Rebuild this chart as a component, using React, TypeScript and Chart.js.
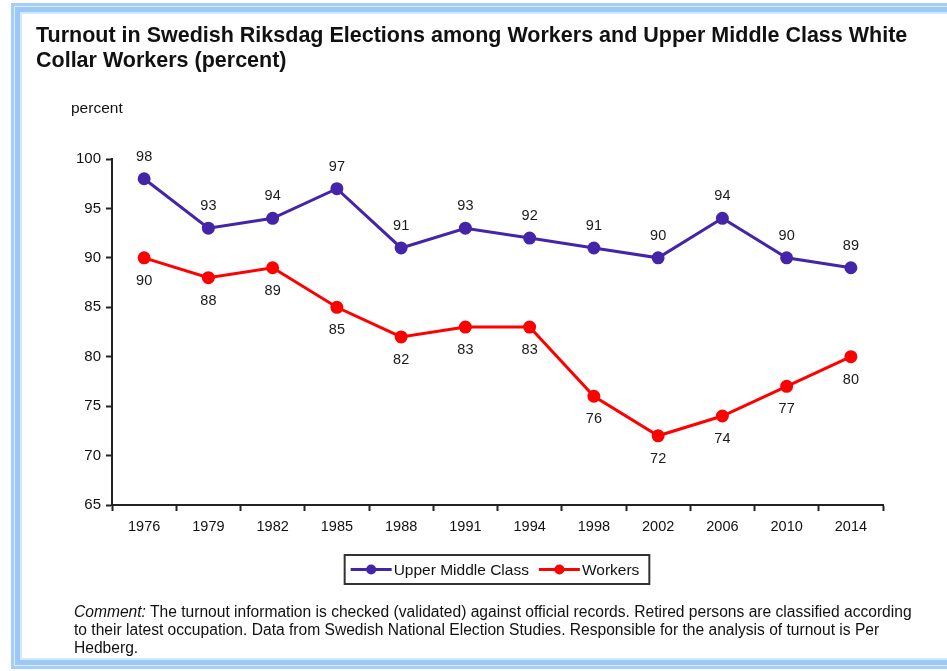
import React, { useEffect, useRef } from "react";
import { Chart, registerables } from "chart.js";

Chart.register(...registerables);

const years = ["1976", "1979", "1982", "1985", "1988", "1991", "1994", "1998", "2002", "2006", "2010", "2014"];
const upperMiddleClass = [98, 93, 94, 97, 91, 93, 92, 91, 90, 94, 90, 89];
const workers = [90, 88, 89, 85, 82, 83, 83, 76, 72, 74, 77, 80];
const seriesNames = ["Upper Middle Class", "Workers"];
const seriesColors = ["#4424a8", "#ff0000"];
const yMin = 65;
const yMax = 100;
const yStep = 5;

const FONT = "'Liberation Sans', Arial, Helvetica, sans-serif";

const dataLabelPlugin = {
  id: "dataLabels",
  afterDatasetsDraw(chart: any) {
    const ctx = chart.ctx;
    ctx.save();
    ctx.font = `14.5px ${FONT}`;
    ctx.fillStyle = "#1a1a1a";
    ctx.textAlign = "center";
    ctx.textBaseline = "middle";
    chart.data.datasets.forEach((ds: any, i: number) => {
      const meta = chart.getDatasetMeta(i);
      meta.data.forEach((pt: any, j: number) => {
        const dy = i === 0 ? -22 : 23;
        ctx.fillText(String(ds.data[j]), pt.x, pt.y + dy);
      });
    });
    ctx.restore();
  },
};

const boxLegendPlugin = {
  id: "boxLegend",
  afterDraw(chart: any) {
    const ctx = chart.ctx;
    ctx.save();
    ctx.font = `15.5px ${FONT}`;
    const padL = 6;
    const padR = 10;
    const lineLen = 41;
    const gapText = 2;
    const gapItem = 10;
    const items = chart.data.datasets.map((ds: any) => ({
      label: ds.label,
      color: ds.borderColor,
      w: ctx.measureText(ds.label).width,
    }));
    let total = padL + padR;
    items.forEach((it: any, k: number) => {
      total += lineLen + gapText + it.w + (k < items.length - 1 ? gapItem : 0);
    });
    const cx = 497;
    const top = 555;
    const h = 29;
    const left = cx - total / 2;
    ctx.strokeStyle = "#333";
    ctx.lineWidth = 2;
    ctx.strokeRect(left, top, total, h);
    const cy = top + h / 2;
    let x = left + padL;
    items.forEach((it: any) => {
      ctx.strokeStyle = it.color;
      ctx.lineWidth = 3;
      ctx.beginPath();
      ctx.moveTo(x, cy);
      ctx.lineTo(x + lineLen, cy);
      ctx.stroke();
      ctx.fillStyle = it.color;
      ctx.beginPath();
      ctx.arc(x + lineLen / 2, cy, 5, 0, Math.PI * 2);
      ctx.fill();
      x += lineLen + gapText;
      ctx.fillStyle = "#111";
      ctx.textAlign = "left";
      ctx.textBaseline = "middle";
      ctx.fillText(it.label, x, cy + 1);
      x += it.w + gapItem;
    });
    ctx.restore();
  },
};

export default function App() {
  const canvasRef = useRef<HTMLCanvasElement | null>(null);

  useEffect(() => {
    if (!canvasRef.current) return;
    const chart = new Chart(canvasRef.current, {
      type: "line",
      data: {
        labels: years,
        datasets: [
          {
            label: seriesNames[0],
            data: upperMiddleClass,
            borderColor: seriesColors[0],
            backgroundColor: seriesColors[0],
            borderWidth: 3,
            pointRadius: 5,
            pointHoverRadius: 5,
            tension: 0,
          },
          {
            label: seriesNames[1],
            data: workers,
            borderColor: seriesColors[1],
            backgroundColor: seriesColors[1],
            borderWidth: 3,
            pointRadius: 5,
            pointHoverRadius: 5,
            tension: 0,
          },
        ],
      },
      options: {
        responsive: false,
        animation: false,
        layout: { padding: { left: 60, right: 64, top: 159, bottom: 136 } },
        plugins: {
          legend: { display: false },
          tooltip: { enabled: false },
          title: { display: false },
        },
        scales: {
          x: {
            type: "category",
            offset: true,
            grid: {
              offset: true,
              drawOnChartArea: false,
              tickLength: 6,
              tickColor: "#222",
              tickWidth: 2,
            },
            border: { color: "#222", width: 2 },
            ticks: { color: "#111", font: { size: 14.5, family: FONT }, padding: 7, maxRotation: 0 },
            afterFit: (s: any) => {
              s.height = 30;
            },
          },
          y: {
            min: yMin,
            max: yMax,
            ticks: { stepSize: yStep, color: "#111", font: { size: 15, family: FONT }, padding: 5 },
            grid: {
              drawOnChartArea: false,
              tickLength: 6,
              tickColor: "#222",
              tickWidth: 2,
            },
            border: { color: "#222", width: 2 },
            afterFit: (s: any) => {
              s.width = 52;
            },
          },
        },
      },
      plugins: [dataLabelPlugin, boxLegendPlugin],
    });
    return () => chart.destroy();
  }, []);

  return (
    <div
      style={{
        position: "fixed",
        left: 0,
        top: 0,
        width: 947,
        height: 671,
        overflow: "hidden",
        background: "#fff",
        fontFamily: FONT,
      }}
    >
      <div
        style={{
          position: "absolute",
          left: 11,
          top: 3,
          width: 980,
          height: 666,
          boxSizing: "border-box",
          boxShadow:
            "inset 0 0 0 3px #a6cefa, inset 0 0 0 4px #dcecfd, inset 0 0 0 9px #9ccaf8, inset 0 0 0 11px #d2e7fc",
        }}
      />
      <canvas ref={canvasRef} width={947} height={671} style={{ position: "absolute", left: 0, top: 0 }} />
      <div
        style={{
          position: "absolute",
          left: 36,
          top: 23,
          fontSize: 21.5,
          fontWeight: "bold",
          lineHeight: "25px",
          color: "#111",
          whiteSpace: "nowrap",
        }}
      >
        Turnout in Swedish Riksdag Elections among Workers and Upper Middle Class White
        <br />
        Collar Workers (percent)
      </div>
      <div style={{ position: "absolute", left: 71, top: 99, fontSize: 15.5, color: "#111" }}>percent</div>
      <div
        style={{
          position: "absolute",
          left: 74,
          top: 603,
          fontSize: 15.6,
          lineHeight: "18px",
          color: "#111",
          whiteSpace: "nowrap",
        }}
      >
        <i>Comment:</i> The turnout information is checked (validated) against official records. Retired persons are classified according
        <br />
        to their latest occupation. Data from Swedish National Election Studies. Responsible for the analysis of turnout is Per
        <br />
        Hedberg.
      </div>
    </div>
  );
}
